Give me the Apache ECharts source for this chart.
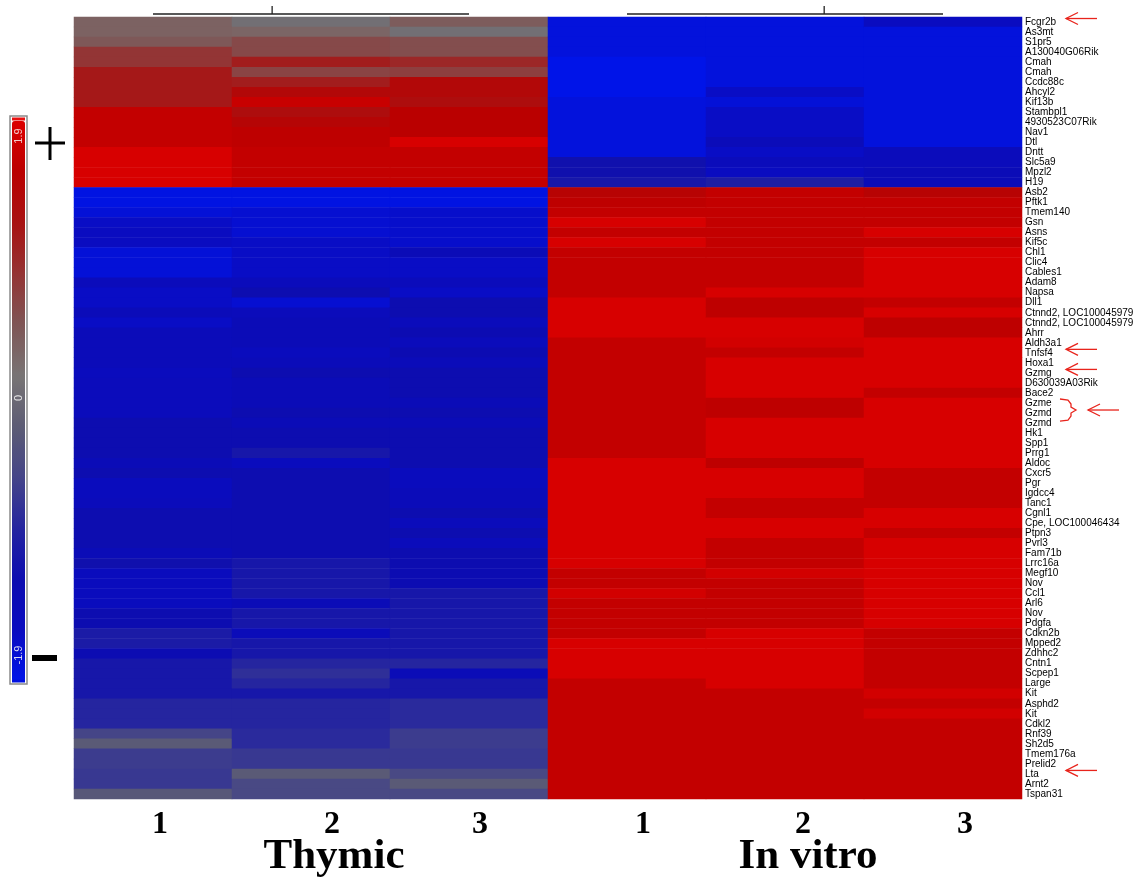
<!DOCTYPE html>
<html>
<head>
<meta charset="utf-8">
<script src="https://cdn.jsdelivr.net/npm/echarts@6/dist/echarts.min.js"></script>
<style>
  html, body { margin: 0; padding: 0; background: #ffffff; }
  #chart { width: 1139px; height: 882px; }
</style>
</head>
<body>
<div id="chart"></div>
<script>
// ---------------- DATA ----------------
const genes = [
  'Fcgr2b','As3mt','S1pr5','A130040G06Rik','Cmah','Cmah','Ccdc88c','Ahcyl2','Kif13b','Stambpl1',
  '4930523C07Rik','Nav1','Dtl','Dntt','Slc5a9','Mpzl2','H19','Asb2','Pftk1','Tmem140',
  'Gsn','Asns','Kif5c','Chl1','Clic4','Cables1','Adam8','Napsa','Dll1','Ctnnd2, LOC100045979',
  'Ctnnd2, LOC100045979','Ahrr','Aldh3a1','Tnfsf4','Hoxa1','Gzmg','D630039A03Rik','Bace2','Gzme','Gzmd',
  'Gzmd','Hk1','Spp1','Prrg1','Aldoc','Cxcr5','Pgr','Igdcc4','Tanc1','Cgnl1',
  'Cpe, LOC100046434','Ptpn3','Pvrl3','Fam71b','Lrrc16a','Megf10','Nov','Ccl1','Arl6','Nov',
  'Pdgfa','Cdkn2b','Mpped2','Zdhhc2','Cntn1','Scpep1','Large','Kit','Asphd2','Kit',
  'Cdkl2','Rnf39','Sh2d5','Tmem176a','Prelid2','Lta','Arnt2','Tspan31'
];
const sampleIds = ['T1','T2','T3','V1','V2','V3'];
const replicateLabels = ['1','2','3','1','2','3'];
const groupLabels = ['Thymic','In vitro'];
const scaleLabels = ['1.9','0','-1.9'];

const thymic1 = [0.38,0.38,0.5,0.85,0.85,1.15,1.15,1.15,1.15,1.65,1.65,1.65,1.65,1.85,1.85,1.85,1.85,
  -1.85,-1.85,-1.75,-1.6,-1.55,-1.55,-1.75,-1.75,-1.75,-1.45,-1.6,-1.6,-1.4,-1.6,-1.4,-1.4,-1.4,-1.4,
  -1.5,-1.45,-1.45,-1.45,-1.45,-1.2,-1.2,-1.2,-1.2,-1.35,-1.2,-1.5,
  -1.5,-1.45,-1.2,-1.2,-1.2,-1.2,-1.35,-1.15,-1.5,-1.5,-1.5,-1.5,-1.2,-1.2,-1.0,-1.0,-1.25,
  -1.05,-1.05,-1.05,-1.05,-0.85,-0.85,-0.85,-0.5,-0.2,-0.6,-0.6,-0.65,-0.65,-0.25];
const thymic2 = [0.1,0.35,0.65,0.65,1.1,0.7,1.1,1.4,1.7,1.3,1.45,1.6,1.6,1.65,1.65,1.65,1.65,
  -1.85,-1.85,-1.7,-1.7,-1.7,-1.6,-1.6,-1.6,-1.6,-1.45,-1.2,-1.7,-1.45,-1.35,-1.35,-1.35,-1.5,-1.4,
  -1.2,-1.35,-1.35,-1.35,-1.2,-1.35,-1.2,-1.2,-1.05,-1.5,-1.2,-1.2,
  -1.2,-1.2,-1.2,-1.2,-1.2,-1.2,-1.2,-1.05,-1.05,-1.05,-1.05,-1.35,-1.05,-1.05,-1.4,-1.05,-1.05,
  -0.85,-0.75,-0.85,-1.05,-0.85,-0.85,-0.85,-0.8,-0.8,-0.65,-0.65,-0.2,-0.45,-0.45];
const thymic3 = [0.45,0.1,0.6,0.6,1.0,0.75,1.4,1.4,1.3,1.55,1.55,1.55,1.85,1.65,1.65,1.65,1.65,
  -1.85,-1.85,-1.65,-1.65,-1.65,-1.65,-1.35,-1.6,-1.6,-1.45,-1.6,-1.2,-1.2,-1.45,-1.25,-1.45,-1.25,-1.4,
  -1.2,-1.2,-1.2,-1.35,-1.2,-1.35,-1.2,-1.2,-1.2,-1.2,-1.5,-1.5,
  -1.4,-1.4,-1.2,-1.45,-1.2,-1.45,-1.2,-1.2,-1.25,-1.25,-1.05,-1.05,-1.05,-1.05,-1.05,-1.05,-1.05,
  -0.85,-1.35,-1.05,-1.05,-0.8,-0.8,-0.8,-0.6,-0.6,-0.65,-0.65,-0.45,-0.2,-0.45];
const invitro1 = [-1.8,-1.8,-1.8,-1.8,-1.9,-1.9,-1.9,-1.9,-1.8,-1.8,-1.8,-1.8,-1.8,-1.8,-1.15,-1.15,-1.05,
  1.5,1.6,1.65,1.85,1.65,1.85,1.65,1.65,1.65,1.65,1.65,1.85,1.85,1.85,1.85,
  1.65,1.65,1.65,1.65,1.65,1.65,1.65,1.65,1.65,1.65,1.65,1.65,1.85,1.85,1.85,
  1.85,1.85,1.85,1.85,1.85,1.85,1.85,1.85,1.65,1.65,1.8,1.65,1.65,1.65,1.65,1.85,1.85,1.85,1.85,
  1.65,1.65,1.65,1.65,1.65,1.65,1.65,1.65,1.65,1.65,1.65,1.65];
const invitro2 = [-1.8,-1.8,-1.8,-1.8,-1.8,-1.8,-1.8,-1.6,-1.75,-1.6,-1.6,-1.6,-1.4,-1.6,-1.45,-1.55,-0.95,
  1.65,1.65,1.65,1.65,1.65,1.65,1.65,1.65,1.65,1.65,1.85,1.6,1.6,1.85,1.85,1.8,1.65,
  1.85,1.85,1.85,1.85,1.6,1.6,1.85,1.85,1.85,1.85,1.6,1.85,1.85,
  1.85,1.65,1.65,1.85,1.85,1.65,1.65,1.65,1.8,1.65,1.65,1.65,1.65,1.65,1.85,1.85,1.85,1.85,1.85,1.85,
  1.65,1.65,1.65,1.65,1.65,1.65,1.65,1.65,1.65,1.65,1.65];
const invitro3 = [-1.55,-1.8,-1.8,-1.8,-1.8,-1.8,-1.8,-1.8,-1.8,-1.8,-1.8,-1.8,-1.8,-1.45,-1.45,-1.35,-1.35,
  1.5,1.65,1.65,1.65,1.85,1.65,1.85,1.85,1.85,1.85,1.85,1.65,1.85,1.6,1.6,
  1.85,1.85,1.85,1.85,1.85,1.65,1.85,1.85,1.85,1.85,1.85,1.85,1.85,1.65,1.65,
  1.65,1.65,1.85,1.85,1.65,1.85,1.85,1.85,1.85,1.85,1.85,1.85,1.85,1.85,
  1.65,1.65,1.65,1.65,1.65,1.65,1.8,1.65,1.8,1.65,1.65,1.65,1.65,1.65,1.65,1.65,1.65];

const sampleColumns = [thymic1, thymic2, thymic3, invitro1, invitro2, invitro3];

// annotated genes (row indices into genes)
const arrowRows = [0, 33, 35, 75];          // Fcgr2b, Tnfsf4, Gzmg, Lta
const bracketRows = [38, 39, 40];           // Gzme, Gzmd, Gzmd

// ---------------- CHART ----------------
const heatData = [];
sampleColumns.forEach((col, c) => col.forEach((v, r) => heatData.push([c, r, v])));

const chart = echarts.init(document.getElementById('chart'), null, { renderer: 'canvas' });

const colorScale = ['#0014e8','#0a0cc0','#0c0cb0','#2424a0','#444488','#5c5c74','#787474',
                    '#7e5656','#943434','#a81212','#ba0000','#dc0000'];

// per-label horizontal nudges of the replicate numbers (label styling only)
const digitShift = [14, 42, 22, 32, 36, 44];
const digitRich = {};
digitShift.forEach((s, i) => {
  digitRich['d' + i] = {
    fontFamily: 'Liberation Serif', fontWeight: 'bold', fontSize: 32, color: '#000',
    padding: [0, 0, 0, s]
  };
});

chart.setOption({
  backgroundColor: '#ffffff',
  animation: false,
  grid: { left: 74, top: 17, width: 948, height: 782, containLabel: false },
  xAxis: [
    {
      type: 'category', data: sampleIds, position: 'bottom',
      axisLine: { show: false }, axisTick: { show: false }, splitLine: { show: false },
      axisLabel: {
        formatter: (v, i) => '{d' + i + '|' + replicateLabels[i] + '}',
        rich: digitRich,
        fontFamily: 'Liberation Serif', fontWeight: 'bold', fontSize: 32, color: '#000',
        margin: 10
      }
    },
    {
      type: 'category', data: groupLabels, position: 'bottom', gridIndex: 0,
      axisLine: { show: false }, axisTick: { show: false }, splitLine: { show: false },
      axisLabel: {
        fontFamily: 'Liberation Serif', fontWeight: 'bold', fontSize: 43, color: '#000',
        margin: 36, padding: [0, 0, 0, 46]
      }
    }
  ],
  yAxis: {
    type: 'category', data: genes, inverse: true, position: 'right',
    axisLine: { show: false }, axisTick: { show: false }, splitLine: { show: false },
    axisLabel: {
      interval: 0, fontFamily: 'Liberation Sans', fontSize: 10, color: '#000',
      margin: 3, padding: [0, 0, 6, 0]
    }
  },
  visualMap: {
    type: 'continuous', min: -1.9, max: 1.9, calculable: false, orient: 'vertical',
    left: 12, top: 121, itemWidth: 13, itemHeight: 561, padding: 0,
    text: null, showLabel: false,
    inRange: { color: colorScale }
  },
  series: [{
    type: 'heatmap', data: heatData, xAxisIndex: 0, yAxisIndex: 0,
    itemStyle: { borderWidth: 0 },
    emphasis: { disabled: true },
    progressive: 0
  }]
});

// ---------- decorations positioned from the axes ----------
const xc = i => chart.convertToPixel({ xAxisIndex: 0 }, i);
const yc = r => chart.convertToPixel({ yAxisIndex: 0 }, r);
const band = yc(1) - yc(0);
const gridTop = yc(0) - band / 2;
const labelX = xc(5) + (xc(5) - xc(4)) / 2 + 3;

const graphics = [];
// dendrogram bars
const dendro = (a, b, f) => {
  const x1 = xc(a), x2 = xc(b), xt = x1 + (x2 - x1) * f, y = gridTop - 3;
  graphics.push({ type: 'line', shape: { x1: x1, y1: y, x2: x2, y2: y }, style: { stroke: '#222', lineWidth: 1.3 } });
  graphics.push({ type: 'line', shape: { x1: xt, y1: y - 8, x2: xt, y2: y }, style: { stroke: '#222', lineWidth: 1.3 } });
};
dendro(0, 2, 0.377);
dendro(3, 5, 0.624);

// red arrows
const red = '#e8241c';
const arrow = (x0, y) => {
  graphics.push({ type: 'line', shape: { x1: x0, y1: y, x2: x0 + 31, y2: y }, style: { stroke: red, lineWidth: 1.3 } });
  graphics.push({ type: 'polyline', shape: { points: [[x0 + 12, y - 6], [x0, y], [x0 + 12, y + 6]] }, style: { stroke: red, lineWidth: 1.3, fill: null } });
};
arrowRows.forEach(r => arrow(labelX + 41, yc(r) - 3.5));
// bracket + arrow for Gzme/Gzmd
const bTop = yc(bracketRows[0]) - 4, bMid = yc(bracketRows[1]) - 3, bBot = yc(bracketRows[2]) - 2;
const bx = labelX + 35;
graphics.push({ type: 'polyline', shape: { points: [
  [bx, bTop], [bx + 8, bTop + 1], [bx + 11, bTop + 5], [bx + 11, bMid - 3], [bx + 16, bMid],
  [bx + 11, bMid + 3], [bx + 11, bBot - 5], [bx + 8, bBot - 1], [bx, bBot]
] }, style: { stroke: red, lineWidth: 1.3, fill: null } });
arrow(labelX + 63, bMid);

// color bar frame, caps and labels
graphics.push({ type: 'rect', shape: { x: 10, y: 116, width: 17, height: 568 }, style: { fill: null, stroke: '#8a8a8a', lineWidth: 1.5 }, z: 10 });
graphics.push({ type: 'rect', shape: { x: 12, y: 117.5, width: 13, height: 3 }, style: { fill: '#e81010' }, z: 10 });
graphics.push({ type: 'rect', shape: { x: 12, y: 679.5, width: 13, height: 3 }, style: { fill: '#0010e0' }, z: 10 });
const scaleY = [136, 398, 655];
const scaleColors = ['#f4c8c8', '#e8e8e8', '#d8d8f4'];
scaleLabels.forEach((t, i) => graphics.push({
  type: 'text', x: 18.5, y: scaleY[i], rotation: Math.PI / 2, z: 11,
  style: { text: t, fill: scaleColors[i], font: '11px "Liberation Sans"', align: 'center', verticalAlign: 'middle' }
}));
// + / - symbols
graphics.push({ type: 'line', shape: { x1: 35, y1: 143, x2: 65, y2: 143 }, style: { stroke: '#000', lineWidth: 3 } });
graphics.push({ type: 'line', shape: { x1: 50, y1: 127, x2: 50, y2: 160 }, style: { stroke: '#000', lineWidth: 3 } });
graphics.push({ type: 'rect', shape: { x: 32, y: 655, width: 25, height: 6 }, style: { fill: '#000' } });

chart.setOption({ graphic: graphics });
</script>
</body>
</html>
